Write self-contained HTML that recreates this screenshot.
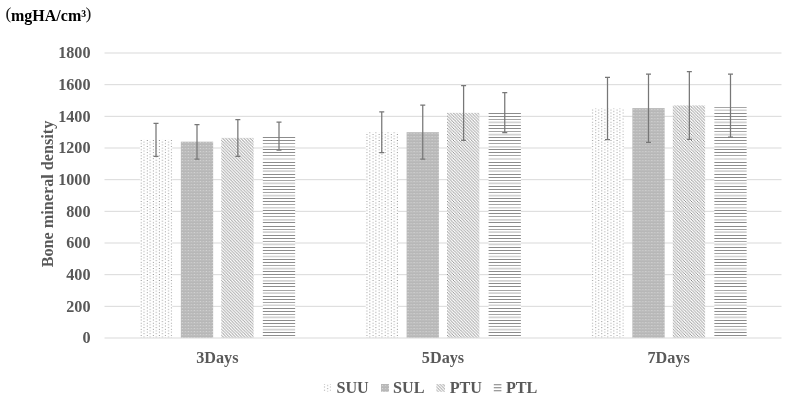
<!DOCTYPE html>
<html><head><meta charset="utf-8"><style>
html,body{margin:0;padding:0;background:#fff;width:791px;height:399px;overflow:hidden}
svg{display:block;filter:blur(0.35px)}
.ax{font-family:"Liberation Serif",serif;font-weight:bold;font-size:16.2px;fill:#595959}
.ttl{font-family:"Liberation Serif",serif;font-weight:bold;font-size:16px;fill:#000}
.par{font-family:"Liberation Serif",serif;font-size:17.6px;fill:#1a1a1a}
</style></head><body>
<svg width="791" height="399" viewBox="0 0 791 399">
<defs>
<pattern id="pSUU" patternUnits="userSpaceOnUse" width="8" height="8" patternTransform="scale(0.7612)"><rect width="8" height="8" fill="#fff"/><rect x="1" y="0" width="1" height="1" fill="#555555"/><rect x="5" y="2" width="1" height="1" fill="#555555"/><rect x="1" y="4" width="1" height="1" fill="#555555"/><rect x="5" y="6" width="1" height="1" fill="#555555"/></pattern>
<pattern id="pSUL" patternUnits="userSpaceOnUse" width="6" height="3"><rect width="6" height="3" fill="#bcbcbc"/><rect x="1" y="1" width="1" height="1" fill="#d6d6d6"/><rect x="4" y="1" width="1" height="1" fill="#cdcdcd"/><rect x="0" y="0" width="6" height="0.5" fill="#b3b3b3"/></pattern>
<pattern id="pPTU" patternUnits="userSpaceOnUse" width="8" height="8" patternTransform="scale(0.7612)"><rect width="8" height="8" fill="#fff"/><path d="M0,0h1v1h-1zM1,1h1v1h-1zM2,2h1v1h-1zM3,3h1v1h-1zM4,4h1v1h-1zM5,5h1v1h-1zM6,6h1v1h-1zM7,7h1v1h-1zM4,0h1v1h-1zM5,1h1v1h-1zM6,2h1v1h-1zM7,3h1v1h-1zM0,4h1v1h-1zM1,5h1v1h-1zM2,6h1v1h-1zM3,7h1v1h-1z" fill="#6a6a6a"/></pattern>
<pattern id="pPTL" patternUnits="userSpaceOnUse" width="8" height="8" patternTransform="scale(0.7612)"><rect width="8" height="8" fill="#fff"/><rect y="0" width="8" height="1" fill="#6a6a6a"/><rect y="4" width="8" height="1" fill="#6a6a6a"/></pattern>
<filter id="bl" x="-5%" y="-5%" width="110%" height="110%"><feGaussianBlur stdDeviation="0.35"/></filter>
</defs>
<rect width="791" height="399" fill="#fff"/>
<line x1="104.5" y1="306.33" x2="781.5" y2="306.33" stroke="#d9d9d9" stroke-width="1"/>
<line x1="104.5" y1="274.67" x2="781.5" y2="274.67" stroke="#d9d9d9" stroke-width="1"/>
<line x1="104.5" y1="243.00" x2="781.5" y2="243.00" stroke="#d9d9d9" stroke-width="1"/>
<line x1="104.5" y1="211.33" x2="781.5" y2="211.33" stroke="#d9d9d9" stroke-width="1"/>
<line x1="104.5" y1="179.67" x2="781.5" y2="179.67" stroke="#d9d9d9" stroke-width="1"/>
<line x1="104.5" y1="148.00" x2="781.5" y2="148.00" stroke="#d9d9d9" stroke-width="1"/>
<line x1="104.5" y1="116.33" x2="781.5" y2="116.33" stroke="#d9d9d9" stroke-width="1"/>
<line x1="104.5" y1="84.67" x2="781.5" y2="84.67" stroke="#d9d9d9" stroke-width="1"/>
<line x1="104.5" y1="53.00" x2="781.5" y2="53.00" stroke="#d9d9d9" stroke-width="1"/>
<text x="90.5" y="343.25" text-anchor="end" class="ax">0</text>
<text x="90.5" y="311.58" text-anchor="end" class="ax">200</text>
<text x="90.5" y="279.92" text-anchor="end" class="ax">400</text>
<text x="90.5" y="248.25" text-anchor="end" class="ax">600</text>
<text x="90.5" y="216.58" text-anchor="end" class="ax">800</text>
<text x="90.5" y="184.92" text-anchor="end" class="ax">1000</text>
<text x="90.5" y="153.25" text-anchor="end" class="ax">1200</text>
<text x="90.5" y="121.58" text-anchor="end" class="ax">1400</text>
<text x="90.5" y="89.92" text-anchor="end" class="ax">1600</text>
<text x="90.5" y="58.25" text-anchor="end" class="ax">1800</text>
<g transform="translate(139.95,0.0)"><rect x="0" y="139.77" width="32.3" height="198.23" fill="url(#pSUU)"/></g>
<g transform="translate(180.85,0.0)"><rect x="0" y="141.67" width="32.3" height="196.33" fill="url(#pSUL)"/></g>
<g transform="translate(221.30,0.0)"><rect x="0" y="137.87" width="32.3" height="200.13" fill="url(#pPTU)"/></g>
<rect x="262.85" y="136.92" width="32.3" height="201.08" fill="#fff"/>
<g filter="url(#bl)"><path d="M262.85,136.92h32.3v1.18h-32.3zM262.85,139.90h32.3v1.20h-32.3zM262.85,148.90h32.3v1.20h-32.3zM262.85,151.90h32.3v1.20h-32.3zM262.85,161.90h32.3v1.20h-32.3zM262.85,164.90h32.3v1.20h-32.3zM262.85,173.90h32.3v1.20h-32.3zM262.85,176.90h32.3v1.20h-32.3zM262.85,185.90h32.3v1.20h-32.3zM262.85,188.90h32.3v1.20h-32.3zM262.85,197.90h32.3v1.20h-32.3zM262.85,200.90h32.3v1.20h-32.3zM262.85,209.90h32.3v1.20h-32.3zM262.85,212.90h32.3v1.20h-32.3zM262.85,221.90h32.3v1.20h-32.3zM262.85,225.90h32.3v1.20h-32.3zM262.85,234.90h32.3v1.20h-32.3zM262.85,237.90h32.3v1.20h-32.3zM262.85,246.90h32.3v1.20h-32.3zM262.85,249.90h32.3v1.20h-32.3zM262.85,258.90h32.3v1.20h-32.3zM262.85,261.90h32.3v1.20h-32.3zM262.85,270.90h32.3v1.20h-32.3zM262.85,273.90h32.3v1.20h-32.3zM262.85,282.90h32.3v1.20h-32.3zM262.85,285.90h32.3v1.20h-32.3zM262.85,295.90h32.3v1.20h-32.3zM262.85,298.90h32.3v1.20h-32.3zM262.85,307.90h32.3v1.20h-32.3zM262.85,310.90h32.3v1.20h-32.3zM262.85,319.90h32.3v1.20h-32.3zM262.85,322.90h32.3v1.20h-32.3zM262.85,331.90h32.3v1.20h-32.3zM262.85,334.90h32.3v1.20h-32.3z" fill="#8c8c8c"/><path d="M262.85,142.90h32.3v1.20h-32.3zM262.85,154.90h32.3v1.20h-32.3zM262.85,167.90h32.3v1.20h-32.3zM262.85,179.90h32.3v1.20h-32.3zM262.85,191.90h32.3v1.20h-32.3zM262.85,203.90h32.3v1.20h-32.3zM262.85,215.90h32.3v1.20h-32.3zM262.85,228.90h32.3v1.20h-32.3zM262.85,240.90h32.3v1.20h-32.3zM262.85,252.90h32.3v1.20h-32.3zM262.85,264.90h32.3v1.20h-32.3zM262.85,276.90h32.3v1.20h-32.3zM262.85,289.90h32.3v1.20h-32.3zM262.85,301.90h32.3v1.20h-32.3zM262.85,313.90h32.3v1.20h-32.3zM262.85,325.90h32.3v1.20h-32.3zM262.85,337.90h32.3v0.10h-32.3z" fill="#a6a6a6"/><path d="M262.85,145.95h32.3v1.70h-32.3zM262.85,158.14h32.3v1.70h-32.3zM262.85,170.33h32.3v1.70h-32.3zM262.85,182.51h32.3v1.70h-32.3zM262.85,194.70h32.3v1.70h-32.3zM262.85,206.89h32.3v1.70h-32.3zM262.85,219.08h32.3v1.70h-32.3zM262.85,231.27h32.3v1.70h-32.3zM262.85,243.45h32.3v1.70h-32.3zM262.85,255.64h32.3v1.70h-32.3zM262.85,267.83h32.3v1.70h-32.3zM262.85,280.02h32.3v1.70h-32.3zM262.85,292.21h32.3v1.70h-32.3zM262.85,304.39h32.3v1.70h-32.3zM262.85,316.58h32.3v1.70h-32.3zM262.85,328.77h32.3v1.70h-32.3z" fill="#d2d2d2"/></g>
<g transform="translate(365.70,0.0)"><rect x="0" y="132.17" width="32.3" height="205.83" fill="url(#pSUU)"/></g>
<g transform="translate(406.60,0.0)"><rect x="0" y="132.17" width="32.3" height="205.83" fill="url(#pSUL)"/></g>
<g transform="translate(447.05,0.0)"><rect x="0" y="112.85" width="32.3" height="225.15" fill="url(#pPTU)"/></g>
<rect x="488.60" y="112.53" width="32.3" height="225.47" fill="#fff"/>
<g filter="url(#bl)"><path d="M488.60,112.90h32.3v1.20h-32.3zM488.60,115.90h32.3v1.20h-32.3zM488.60,124.90h32.3v1.20h-32.3zM488.60,127.90h32.3v1.20h-32.3zM488.60,136.90h32.3v1.20h-32.3zM488.60,139.90h32.3v1.20h-32.3zM488.60,148.90h32.3v1.20h-32.3zM488.60,151.90h32.3v1.20h-32.3zM488.60,161.90h32.3v1.20h-32.3zM488.60,164.90h32.3v1.20h-32.3zM488.60,173.90h32.3v1.20h-32.3zM488.60,176.90h32.3v1.20h-32.3zM488.60,185.90h32.3v1.20h-32.3zM488.60,188.90h32.3v1.20h-32.3zM488.60,197.90h32.3v1.20h-32.3zM488.60,200.90h32.3v1.20h-32.3zM488.60,209.90h32.3v1.20h-32.3zM488.60,212.90h32.3v1.20h-32.3zM488.60,221.90h32.3v1.20h-32.3zM488.60,225.90h32.3v1.20h-32.3zM488.60,234.90h32.3v1.20h-32.3zM488.60,237.90h32.3v1.20h-32.3zM488.60,246.90h32.3v1.20h-32.3zM488.60,249.90h32.3v1.20h-32.3zM488.60,258.90h32.3v1.20h-32.3zM488.60,261.90h32.3v1.20h-32.3zM488.60,270.90h32.3v1.20h-32.3zM488.60,273.90h32.3v1.20h-32.3zM488.60,282.90h32.3v1.20h-32.3zM488.60,285.90h32.3v1.20h-32.3zM488.60,295.90h32.3v1.20h-32.3zM488.60,298.90h32.3v1.20h-32.3zM488.60,307.90h32.3v1.20h-32.3zM488.60,310.90h32.3v1.20h-32.3zM488.60,319.90h32.3v1.20h-32.3zM488.60,322.90h32.3v1.20h-32.3zM488.60,331.90h32.3v1.20h-32.3zM488.60,334.90h32.3v1.20h-32.3z" fill="#8c8c8c"/><path d="M488.60,118.90h32.3v1.20h-32.3zM488.60,130.90h32.3v1.20h-32.3zM488.60,142.90h32.3v1.20h-32.3zM488.60,154.90h32.3v1.20h-32.3zM488.60,167.90h32.3v1.20h-32.3zM488.60,179.90h32.3v1.20h-32.3zM488.60,191.90h32.3v1.20h-32.3zM488.60,203.90h32.3v1.20h-32.3zM488.60,215.90h32.3v1.20h-32.3zM488.60,228.90h32.3v1.20h-32.3zM488.60,240.90h32.3v1.20h-32.3zM488.60,252.90h32.3v1.20h-32.3zM488.60,264.90h32.3v1.20h-32.3zM488.60,276.90h32.3v1.20h-32.3zM488.60,289.90h32.3v1.20h-32.3zM488.60,301.90h32.3v1.20h-32.3zM488.60,313.90h32.3v1.20h-32.3zM488.60,325.90h32.3v1.20h-32.3zM488.60,337.90h32.3v0.10h-32.3z" fill="#a6a6a6"/><path d="M488.60,121.57h32.3v1.70h-32.3zM488.60,133.76h32.3v1.70h-32.3zM488.60,145.95h32.3v1.70h-32.3zM488.60,158.14h32.3v1.70h-32.3zM488.60,170.33h32.3v1.70h-32.3zM488.60,182.51h32.3v1.70h-32.3zM488.60,194.70h32.3v1.70h-32.3zM488.60,206.89h32.3v1.70h-32.3zM488.60,219.08h32.3v1.70h-32.3zM488.60,231.27h32.3v1.70h-32.3zM488.60,243.45h32.3v1.70h-32.3zM488.60,255.64h32.3v1.70h-32.3zM488.60,267.83h32.3v1.70h-32.3zM488.60,280.02h32.3v1.70h-32.3zM488.60,292.21h32.3v1.70h-32.3zM488.60,304.39h32.3v1.70h-32.3zM488.60,316.58h32.3v1.70h-32.3zM488.60,328.77h32.3v1.70h-32.3z" fill="#d2d2d2"/></g>
<g transform="translate(591.45,0.0)"><rect x="0" y="108.42" width="32.3" height="229.58" fill="url(#pSUU)"/></g>
<g transform="translate(632.35,0.0)"><rect x="0" y="108.10" width="32.3" height="229.90" fill="url(#pSUL)"/></g>
<g transform="translate(672.80,0.0)"><rect x="0" y="105.41" width="32.3" height="232.59" fill="url(#pPTU)"/></g>
<rect x="714.35" y="105.57" width="32.3" height="232.43" fill="#fff"/>
<g filter="url(#bl)"><path d="M714.35,106.90h32.3v1.20h-32.3zM714.35,118.90h32.3v1.20h-32.3zM714.35,130.90h32.3v1.20h-32.3zM714.35,142.90h32.3v1.20h-32.3zM714.35,154.90h32.3v1.20h-32.3zM714.35,167.90h32.3v1.20h-32.3zM714.35,179.90h32.3v1.20h-32.3zM714.35,191.90h32.3v1.20h-32.3zM714.35,203.90h32.3v1.20h-32.3zM714.35,215.90h32.3v1.20h-32.3zM714.35,228.90h32.3v1.20h-32.3zM714.35,240.90h32.3v1.20h-32.3zM714.35,252.90h32.3v1.20h-32.3zM714.35,264.90h32.3v1.20h-32.3zM714.35,276.90h32.3v1.20h-32.3zM714.35,289.90h32.3v1.20h-32.3zM714.35,301.90h32.3v1.20h-32.3zM714.35,313.90h32.3v1.20h-32.3zM714.35,325.90h32.3v1.20h-32.3zM714.35,337.90h32.3v0.10h-32.3z" fill="#a6a6a6"/><path d="M714.35,109.39h32.3v1.70h-32.3zM714.35,121.57h32.3v1.70h-32.3zM714.35,133.76h32.3v1.70h-32.3zM714.35,145.95h32.3v1.70h-32.3zM714.35,158.14h32.3v1.70h-32.3zM714.35,170.33h32.3v1.70h-32.3zM714.35,182.51h32.3v1.70h-32.3zM714.35,194.70h32.3v1.70h-32.3zM714.35,206.89h32.3v1.70h-32.3zM714.35,219.08h32.3v1.70h-32.3zM714.35,231.27h32.3v1.70h-32.3zM714.35,243.45h32.3v1.70h-32.3zM714.35,255.64h32.3v1.70h-32.3zM714.35,267.83h32.3v1.70h-32.3zM714.35,280.02h32.3v1.70h-32.3zM714.35,292.21h32.3v1.70h-32.3zM714.35,304.39h32.3v1.70h-32.3zM714.35,316.58h32.3v1.70h-32.3zM714.35,328.77h32.3v1.70h-32.3z" fill="#d2d2d2"/><path d="M714.35,112.90h32.3v1.20h-32.3zM714.35,115.90h32.3v1.20h-32.3zM714.35,124.90h32.3v1.20h-32.3zM714.35,127.90h32.3v1.20h-32.3zM714.35,136.90h32.3v1.20h-32.3zM714.35,139.90h32.3v1.20h-32.3zM714.35,148.90h32.3v1.20h-32.3zM714.35,151.90h32.3v1.20h-32.3zM714.35,161.90h32.3v1.20h-32.3zM714.35,164.90h32.3v1.20h-32.3zM714.35,173.90h32.3v1.20h-32.3zM714.35,176.90h32.3v1.20h-32.3zM714.35,185.90h32.3v1.20h-32.3zM714.35,188.90h32.3v1.20h-32.3zM714.35,197.90h32.3v1.20h-32.3zM714.35,200.90h32.3v1.20h-32.3zM714.35,209.90h32.3v1.20h-32.3zM714.35,212.90h32.3v1.20h-32.3zM714.35,221.90h32.3v1.20h-32.3zM714.35,225.90h32.3v1.20h-32.3zM714.35,234.90h32.3v1.20h-32.3zM714.35,237.90h32.3v1.20h-32.3zM714.35,246.90h32.3v1.20h-32.3zM714.35,249.90h32.3v1.20h-32.3zM714.35,258.90h32.3v1.20h-32.3zM714.35,261.90h32.3v1.20h-32.3zM714.35,270.90h32.3v1.20h-32.3zM714.35,273.90h32.3v1.20h-32.3zM714.35,282.90h32.3v1.20h-32.3zM714.35,285.90h32.3v1.20h-32.3zM714.35,295.90h32.3v1.20h-32.3zM714.35,298.90h32.3v1.20h-32.3zM714.35,307.90h32.3v1.20h-32.3zM714.35,310.90h32.3v1.20h-32.3zM714.35,319.90h32.3v1.20h-32.3zM714.35,322.90h32.3v1.20h-32.3zM714.35,331.90h32.3v1.20h-32.3zM714.35,334.90h32.3v1.20h-32.3z" fill="#8c8c8c"/></g>
<line x1="104.5" y1="338.00" x2="781.5" y2="338.00" stroke="#d9d9d9" stroke-width="1.2"/>
<path d="M156.00,123.40 V156.30 M153.50,123.40 H158.50 M153.50,156.30 H158.50" stroke="#777777" stroke-width="1.25" fill="none"/>
<path d="M197.00,124.60 V159.20 M194.50,124.60 H199.50 M194.50,159.20 H199.50" stroke="#777777" stroke-width="1.25" fill="none"/>
<path d="M237.85,119.50 V156.30 M235.35,119.50 H240.35 M235.35,156.30 H240.35" stroke="#777777" stroke-width="1.25" fill="none"/>
<path d="M279.00,122.00 V150.00 M276.50,122.00 H281.50 M276.50,150.00 H281.50" stroke="#777777" stroke-width="1.25" fill="none"/>
<path d="M381.75,111.90 V152.50 M379.25,111.90 H384.25 M379.25,152.50 H384.25" stroke="#777777" stroke-width="1.25" fill="none"/>
<path d="M422.75,105.20 V159.10 M420.25,105.20 H425.25 M420.25,159.10 H425.25" stroke="#777777" stroke-width="1.25" fill="none"/>
<path d="M463.60,85.50 V140.30 M461.10,85.50 H466.10 M461.10,140.30 H466.10" stroke="#777777" stroke-width="1.25" fill="none"/>
<path d="M504.75,92.60 V132.60 M502.25,92.60 H507.25 M502.25,132.60 H507.25" stroke="#777777" stroke-width="1.25" fill="none"/>
<path d="M607.50,77.40 V139.60 M605.00,77.40 H610.00 M605.00,139.60 H610.00" stroke="#777777" stroke-width="1.25" fill="none"/>
<path d="M648.50,74.00 V142.30 M646.00,74.00 H651.00 M646.00,142.30 H651.00" stroke="#777777" stroke-width="1.25" fill="none"/>
<path d="M689.35,71.70 V139.40 M686.85,71.70 H691.85 M686.85,139.40 H691.85" stroke="#777777" stroke-width="1.25" fill="none"/>
<path d="M730.50,74.00 V137.10 M728.00,74.00 H733.00 M728.00,137.10 H733.00" stroke="#777777" stroke-width="1.25" fill="none"/>
<text x="217.33" y="362.7" text-anchor="middle" class="ax">3Days</text>
<text x="443.00" y="362.7" text-anchor="middle" class="ax">5Days</text>
<text x="668.67" y="362.7" text-anchor="middle" class="ax">7Days</text>
<text transform="translate(53,194) rotate(-90)" text-anchor="middle" class="ax">Bone mineral density</text>
<text class="par" x="5.4" y="19.1">(</text><text class="ttl" x="11" y="20.7">mgHA/cm³</text><text class="par" x="85.5" y="19.1">)</text>
<g transform="translate(323.4,0)"><rect x="0" y="384" width="7.5" height="7.8" fill="url(#pSUU)"/></g>
<text x="336.4" y="393.0" class="ax">SUU</text>
<g transform="translate(381.0,0)"><rect x="0" y="384" width="8" height="7.8" fill="url(#pSUL)"/></g>
<text x="393" y="393.0" class="ax">SUL</text>
<g transform="translate(436.4,0)"><rect x="0" y="384" width="8.6" height="7.8" fill="url(#pPTU)"/></g>
<text x="449.7" y="393.0" class="ax">PTU</text>
<path d="M493.8,384.3h7.6v1h-7.6zM493.8,387.3h7.6v1h-7.6zM493.8,390.3h7.6v1h-7.6z" fill="#7c7c7c"/>
<text x="505.9" y="393.0" class="ax">PTL</text>
</svg>
</body></html>
